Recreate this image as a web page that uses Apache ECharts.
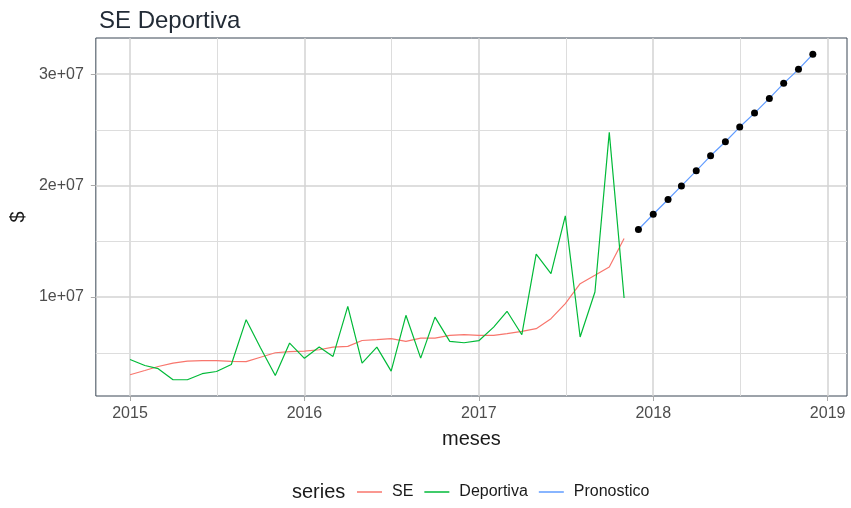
<!DOCTYPE html>
<html>
<head>
<meta charset="utf-8">
<script src="https://cdn.jsdelivr.net/npm/echarts@6/dist/echarts.min.js"></script>
<style>
    html, body { margin: 0; padding: 0; background: #fff; }
    #chart { width: 851px; height: 508px; }
</style>
</head>
<body>
<div id="chart"></div>
<script>
// meses observados (SE y Deportiva)
const meses = [
    '2015-01', '2015-02', '2015-03', '2015-04', '2015-05', '2015-06',
    '2015-07', '2015-08', '2015-09', '2015-10', '2015-11', '2015-12',
    '2016-01', '2016-02', '2016-03', '2016-04', '2016-05', '2016-06',
    '2016-07', '2016-08', '2016-09', '2016-10', '2016-11', '2016-12',
    '2017-01', '2017-02', '2017-03', '2017-04', '2017-05', '2017-06',
    '2017-07', '2017-08', '2017-09', '2017-10', '2017-11'
];
// valores en millones
const se = [
    3.03, 3.41, 3.77, 4.07, 4.25, 4.29, 4.29, 4.22, 4.20, 4.60, 5.00, 5.10,
    5.15, 5.27, 5.50, 5.57, 6.10, 6.17, 6.26, 6.02, 6.32, 6.32, 6.56, 6.62,
    6.56, 6.56, 6.71, 6.92, 7.16, 8.06, 9.41, 11.20, 11.95, 12.70, 15.25
];
const deportiva = [
    4.40, 3.86, 3.57, 2.58, 2.58, 3.12, 3.32, 3.95, 7.97, 5.45, 2.96, 5.87,
    4.50, 5.51, 4.67, 9.16, 4.07, 5.51, 3.35, 8.36, 4.52, 8.20, 6.02, 5.90,
    6.08, 7.30, 8.72, 6.62, 13.84, 12.10, 17.28, 6.41, 10.45, 24.77, 9.91
];
// pronostico
const mesesPron = [
    '2017-12', '2018-01', '2018-02', '2018-03', '2018-04', '2018-05', '2018-06',
    '2018-07', '2018-08', '2018-09', '2018-10', '2018-11', '2018-12'
];
const pronostico = [
    16.06, 17.43, 18.75, 19.97, 21.32, 22.67, 23.93,
    25.25, 26.50, 27.82, 29.17, 30.43, 31.78
];

const xTicks = [2015, 2016, 2017, 2018, 2019];
const xMinor = [2015.5, 2016.5, 2017.5, 2018.5];
const yTicks = [10000000, 20000000, 30000000];
const yMinor = [5000000, 15000000, 25000000];

const FONT = 'Liberation Sans, Arial, sans-serif';

// fecha 'YYYY-MM' -> año decimal (como escala Date de ggplot)
function toYear(s) {
    const [y, m] = s.split('-').map(Number);
    const start = Date.UTC(y, 0, 1);
    const end = Date.UTC(y + 1, 0, 1);
    return y + (Date.UTC(y, m - 1, 1) - start) / (end - start);
}
function pares(fechas, vals) {
    return fechas.map((f, i) => [toYear(f), vals[i] * 1e6]);
}

const gridLines = [];
xTicks.forEach(v => gridLines.push({ xAxis: v, lineStyle: { color: '#d3d3d3', width: 1.5, type: 'solid' } }));
xMinor.forEach(v => gridLines.push({ xAxis: v, lineStyle: { color: '#dddddd', width: 1, type: 'solid' } }));
yTicks.forEach(v => gridLines.push({ yAxis: v, lineStyle: { color: '#d3d3d3', width: 1.5, type: 'solid' } }));
yMinor.forEach(v => gridLines.push({ yAxis: v, lineStyle: { color: '#dddddd', width: 1, type: 'solid' } }));

let option = {
    animation: false,
    backgroundColor: '#ffffff',
    textStyle: { fontFamily: FONT },
    title: {
        text: 'SE Deportiva',
        left: 94,
        top: 4,
        textStyle: { fontSize: 24, fontWeight: 'normal', color: '#222b36', fontFamily: FONT }
    },
    graphic: [{
        type: 'text',
        left: 292,
        top: 482,
        style: { text: 'series', fontSize: 20, fill: '#1a1a1a', fontFamily: FONT }
    }],
    legend: {
        data: [
            { name: 'SE', icon: 'rect' },
            { name: 'Deportiva', icon: 'rect' },
            { name: 'Pronostico', icon: 'rect' }
        ],
        left: 357,
        top: 483,
        padding: 0,
        itemWidth: 25,
        itemHeight: 1.5,
        itemGap: 11,
        textStyle: { fontSize: 16, color: '#1a1a1a', fontFamily: FONT, padding: [0, 0, 0, 5], lineHeight: 18 }
    },
    grid: {
        left: 95,
        right: 4,
        top: 38,
        bottom: 112,
        show: true,
        backgroundColor: '#ffffff',
        borderColor: '#3a4654',
        borderWidth: 1
    },
    xAxis: {
        type: 'value',
        min: 2014.804,
        max: 2019.111,
        name: 'meses',
        nameLocation: 'middle',
        nameGap: 33,
        nameTextStyle: { fontSize: 20, color: '#1a1a1a', fontFamily: FONT },
        axisLine: { show: false },
        splitLine: { show: false },
        axisTick: { show: true, customValues: xTicks, length: 5, lineStyle: { color: '#aaaaaa' } },
        axisLabel: {
            customValues: xTicks,
            formatter: v => String(Math.round(v)),
            fontSize: 16,
            color: '#4d4d4d',
            margin: 10,
            fontFamily: FONT
        }
    },
    yAxis: {
        type: 'value',
        min: 1120000,
        max: 33240000,
        name: '$',
        nameLocation: 'middle',
        nameGap: 63,
        nameTextStyle: { fontSize: 20, color: '#1a1a1a', fontFamily: FONT },
        axisLine: { show: false },
        splitLine: { show: false },
        axisTick: { show: true, customValues: yTicks, length: 5, lineStyle: { color: '#aaaaaa' } },
        axisLabel: {
            customValues: yTicks,
            formatter: v => Math.round(v / 1e7) + 'e+07',
            fontSize: 16,
            color: '#4d4d4d',
            margin: 12,
            fontFamily: FONT
        }
    },
    series: [
        {
            // solo para las lineas de la grilla
            type: 'line',
            name: 'grilla',
            data: [],
            silent: true,
            z: 0,
            markLine: {
                silent: true,
                z: 0,
                symbol: ['none', 'none'],
                label: { show: false },
                emphasis: { disabled: true },
                data: gridLines
            }
        },
        {
            type: 'line',
            name: 'SE',
            data: pares(meses, se),
            showSymbol: false,
            symbol: 'none',
            z: 3,
            itemStyle: { color: '#F8766D' },
            lineStyle: { color: '#F8766D', width: 1.2 }
        },
        {
            type: 'line',
            name: 'Deportiva',
            data: pares(meses, deportiva),
            showSymbol: false,
            symbol: 'none',
            z: 3,
            itemStyle: { color: '#00BA38' },
            lineStyle: { color: '#00BA38', width: 1.2 }
        },
        {
            type: 'line',
            name: 'Pronostico',
            data: pares(mesesPron, pronostico),
            showSymbol: false,
            symbol: 'none',
            z: 3,
            itemStyle: { color: '#619CFF' },
            lineStyle: { color: '#619CFF', width: 1.2 }
        },
        {
            type: 'scatter',
            name: 'puntos',
            data: pares(mesesPron, pronostico),
            symbolSize: 7,
            z: 6,
            itemStyle: { color: '#000000', opacity: 1 }
        }
    ]
};

let chart = echarts.init(document.getElementById('chart'));
chart.setOption(option);
window.addEventListener('resize', function () {
    chart.resize();
});
</script>
</body>
</html>
